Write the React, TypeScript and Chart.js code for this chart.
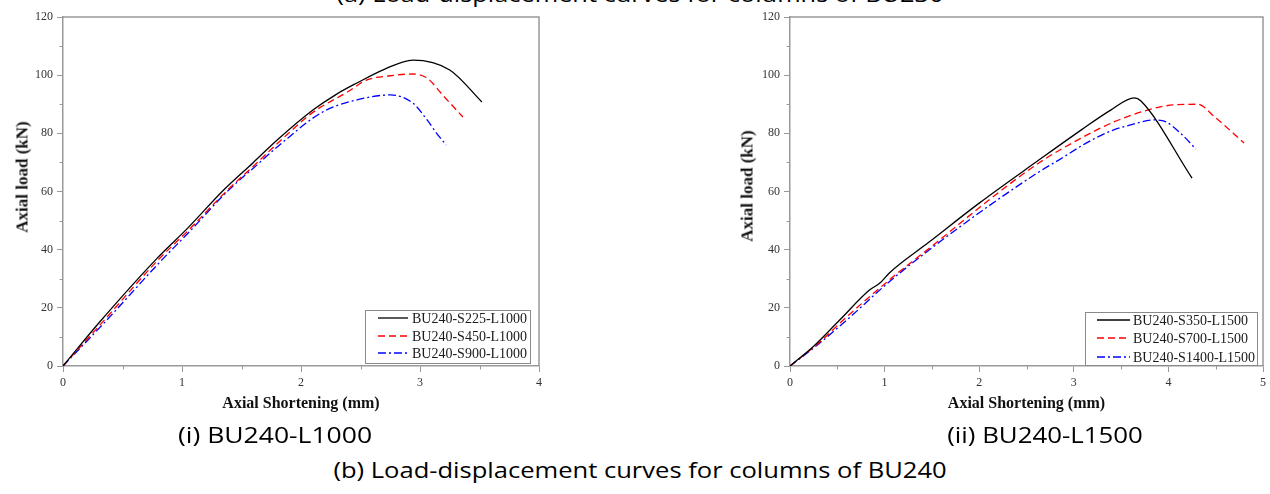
import React, { useEffect, useLayoutEffect, useRef, useState } from "react";
import { Chart, registerables } from "chart.js";

Chart.register(...registerables);

// ---------- Data: (i) BU240-L1000 ----------
const s225X = [0, 0.31, 0.79, 1.05, 1.35, 1.6, 1.8, 2.1, 2.3, 2.47, 2.7, 2.94, 3.25, 3.52];
const s225Y = [0, 15.2, 37, 47.5, 60.5, 70, 77.7, 88, 93.5, 97.3, 102, 105.2, 101.8, 90.8];
const s450X = [0, 0.33, 0.8, 1.05, 1.37, 1.62, 1.82, 2.1, 2.39, 2.55, 2.75, 2.94, 3.06, 3.19, 3.36];
const s450Y = [0, 15, 36.5, 46.5, 60, 69.5, 77.2, 87.2, 94.2, 98.3, 99.8, 100.4, 99, 93.2, 85.6];
const s900X = [0, 0.35, 0.82, 1.07, 1.38, 1.64, 1.82, 2.18, 2.47, 2.75, 2.94, 3.06, 3.14, 3.22];
const s900Y = [0, 15, 36, 46.5, 60, 69.5, 76, 87.3, 91.5, 93.2, 90.4, 84.6, 80, 76];

// ---------- Data: (ii) BU240-L1500 ----------
const s350X = [0, 0.25, 0.525, 0.84, 0.95, 1.05, 1.47, 2.0, 2.63, 3.08, 3.39, 3.64, 3.71, 4.25];
const s350Y = [0, 6.8, 15.8, 26.1, 28.5, 32, 42.6, 56, 70.8, 81.2, 88, 92.2, 91.1, 64.6];
const s700X = [0, 0.3, 0.6, 1.05, 1.58, 2.1, 2.63, 3.08, 3.43, 3.78, 4.06, 4.31, 4.49, 4.8];
const s700Y = [0, 7.8, 16.9, 29.6, 43.3, 57, 69.8, 78.4, 84, 88, 89.8, 90, 85.6, 76.7];
const s1400X = [0, 0.3, 0.6, 1.05, 1.58, 2.1, 2.63, 2.84, 3.15, 3.39, 3.6, 3.85, 3.97, 4.13, 4.29];
const s1400Y = [0, 7.5, 15.8, 29, 42.6, 55, 66.7, 70.8, 77, 80.8, 82.9, 84.6, 84, 80, 74.6];

const leftLabels = ["BU240-S225-L1000", "BU240-S450-L1000", "BU240-S900-L1000"];
const rightLabels = ["BU240-S350-L1500", "BU240-S700-L1500", "BU240-S1400-L1500"];

const leftXMinor = [0.5, 1.5, 2.5, 3.5];
const rightXMinor = [0.5, 1.5, 2.5, 3.5, 4.5];
const yMinor = [10, 30, 50, 70, 90, 110];

const SERIF = "'Liberation Serif', 'Times New Roman', serif";
const SANS = "'Open Sans', Lato, sans-serif";
const FRAME = "#999999";

const STYLES = [
  { color: "#000000", dash: [] as number[] },
  { color: "#ff0000", dash: [7, 4] },
  { color: "#0000ff", dash: [8, 3, 2, 3] },
];

const zip = (xs: number[], ys: number[]) => xs.map((x, i) => ({ x, y: ys[i] }));

const framePlugin = {
  id: "framePlugin",
  afterDraw(chart: any, _a: any, opts: any) {
    const { ctx, chartArea } = chart;
    const xs = chart.scales.x;
    const ys = chart.scales.y;
    ctx.save();
    ctx.strokeStyle = FRAME;
    ctx.lineWidth = 1.5;
    ctx.beginPath();
    ctx.moveTo(chartArea.left, chartArea.top);
    ctx.lineTo(chartArea.right, chartArea.top);
    ctx.lineTo(chartArea.right, chartArea.bottom);
    ctx.stroke();
    ctx.lineWidth = 1;
    ctx.beginPath();
    for (const v of opts.xMinor) {
      const px = Math.round(xs.getPixelForValue(v)) + 0.5;
      ctx.moveTo(px, chartArea.bottom);
      ctx.lineTo(px, chartArea.bottom + 3.5);
    }
    for (const v of opts.yMinor) {
      const py = Math.round(ys.getPixelForValue(v)) + 0.5;
      ctx.moveTo(chartArea.left, py);
      ctx.lineTo(chartArea.left - 3.5, py);
    }
    ctx.stroke();
    const L = opts.legend;
    ctx.fillStyle = "#ffffff";
    ctx.fillRect(L.x, L.y, L.w, L.h);
    ctx.strokeStyle = "#8a8a8a";
    ctx.lineWidth = 1;
    ctx.strokeRect(L.x + 0.5, L.y + 0.5, L.w, L.h);
    ctx.font = `14px ${SERIF}`;
    ctx.textBaseline = "middle";
    ctx.textAlign = "left";
    chart.data.datasets.forEach((ds: any, i: number) => {
      const ry = L.rows[i];
      ctx.strokeStyle = ds.borderColor;
      ctx.lineWidth = 1.3;
      ctx.setLineDash(ds.borderDash || []);
      ctx.beginPath();
      ctx.moveTo(L.sx0, ry);
      ctx.lineTo(L.sx1, ry);
      ctx.stroke();
      ctx.setLineDash([]);
      ctx.fillStyle = "#1a1a1a";
      ctx.fillText(ds.label, L.tx, ry + 1);
    });
    ctx.restore();
  },
};

function makeConfig(
  labels: string[],
  xsList: number[][],
  ysList: number[][],
  xMax: number,
  yAxisWidth: number,
  padRight: number,
  xMinor: number[],
  legend: any
): any {
  return {
    type: "line",
    data: {
      datasets: labels.map((label, i) => ({
        label,
        data: zip(xsList[i], ysList[i]),
        borderColor: STYLES[i].color,
        borderDash: STYLES[i].dash,
        borderWidth: 1.3,
        pointRadius: 0,
        cubicInterpolationMode: "monotone",
        fill: false,
      })),
    },
    options: {
      animation: false,
      responsive: false,
      devicePixelRatio: 1,
      layout: { padding: { left: 0, top: 17, right: padRight, bottom: 0 } },
      plugins: {
        legend: { display: false },
        tooltip: { enabled: false },
        framePlugin: { xMinor, yMinor, legend },
      },
      scales: {
        x: {
          type: "linear",
          min: 0,
          max: xMax,
          afterFit: (s: any) => {
            s.height = 54;
          },
          ticks: {
            stepSize: 1,
            padding: 4,
            color: "#333333",
            font: { family: SERIF, size: 12 },
            maxRotation: 0,
          },
          grid: {
            display: true,
            drawOnChartArea: false,
            drawTicks: true,
            tickLength: 6,
            color: FRAME,
            lineWidth: 1,
          },
          border: { display: true, color: FRAME, width: 1.5 },
          title: {
            display: true,
            text: "Axial Shortening (mm)",
            color: "#111111",
            font: { family: SERIF, size: 16, weight: "bold" },
            padding: { top: 0, bottom: 7 },
          },
        },
        y: {
          type: "linear",
          min: 0,
          max: 120,
          afterFit: (s: any) => {
            s.width = yAxisWidth;
          },
          ticks: {
            stepSize: 20,
            padding: 4,
            color: "#333333",
            font: { family: SERIF, size: 12 },
          },
          grid: {
            display: true,
            drawOnChartArea: false,
            drawTicks: true,
            tickLength: 6,
            color: FRAME,
            lineWidth: 1,
          },
          border: { display: true, color: FRAME, width: 1.5 },
          title: { display: false },
        },
      },
    },
    plugins: [framePlugin],
  };
}

function ChartCanvas(props: { config: any; left: number; width: number; height: number }) {
  const ref = useRef<HTMLCanvasElement | null>(null);
  useEffect(() => {
    if (!ref.current) return;
    const chart = new Chart(ref.current, props.config);
    return () => chart.destroy();
  }, []);
  return (
    <canvas
      ref={ref}
      width={props.width}
      height={props.height}
      style={{ position: "absolute", left: props.left, top: 0, width: props.width, height: props.height }}
    />
  );
}

const leftConfig = makeConfig(
  leftLabels,
  [s225X, s450X, s900X],
  [s225Y, s450Y, s900Y],
  4,
  63,
  21,
  leftXMinor,
  { x: 365, y: 310, w: 165, h: 53, rows: [318, 336, 353], sx0: 378, sx1: 408, tx: 412 }
);

const rightConfig = makeConfig(
  rightLabels,
  [s350X, s700X, s1400X],
  [s350Y, s700Y, s1400Y],
  5,
  70,
  4,
  rightXMinor,
  { x: 365, y: 312, w: 172, h: 53, rows: [320, 338, 357], sx0: 377, sx1: 410, tx: 413 }
);

// Caption that is horizontally stretched to a target width (the reference captions are stretched)
function Caption(props: { text: string; cx: number; cy: number; size: number; target: number }) {
  const ref = useRef<HTMLSpanElement | null>(null);
  const [sx, setSx] = useState(1);
  useLayoutEffect(() => {
    if (ref.current) {
      const w = ref.current.offsetWidth;
      if (w > 0) setSx(props.target / w);
    }
  }, []);
  return (
    <span
      ref={ref}
      style={{
        position: "absolute",
        left: props.cx,
        top: props.cy,
        whiteSpace: "nowrap",
        lineHeight: 1,
        fontFamily: SANS,
        fontSize: props.size,
        color: "#000",
        transform: `translate(-50%, -50%) scaleX(${sx})`,
      }}
    >
      {props.text}
    </span>
  );
}

const yTitleStyle: React.CSSProperties = {
  position: "absolute",
  whiteSpace: "nowrap",
  lineHeight: 1,
  fontFamily: SERIF,
  fontWeight: "bold",
  fontSize: 17,
  color: "#111",
  transform: "translate(-50%, -50%) rotate(-90deg)",
};

export default function App() {
  return (
    <div
      style={{
        position: "fixed",
        left: 0,
        top: 0,
        width: 1270,
        height: 494,
        background: "#ffffff",
        overflow: "hidden",
      }}
    >
      <Caption text="(a) Load-displacement curves for columns of BU230" cx={640} cy={-7} size={22} target={607} />
      <ChartCanvas config={leftConfig} left={0} width={560} height={420} />
      <ChartCanvas config={rightConfig} left={720} width={550} height={420} />
      <div style={{ ...yTitleStyle, left: 21.5, top: 177 }}>Axial load (kN)</div>
      <div style={{ ...yTitleStyle, left: 747, top: 186 }}>Axial load (kN)</div>
      <Caption text="(i) BU240-L1000" cx={275} cy={434} size={22} target={194} />
      <Caption text="(ii) BU240-L1500" cx={1045} cy={434} size={22} target={196} />
      <Caption text="(b) Load-displacement curves for columns of BU240" cx={640} cy={469} size={22} target={613} />
    </div>
  );
}
